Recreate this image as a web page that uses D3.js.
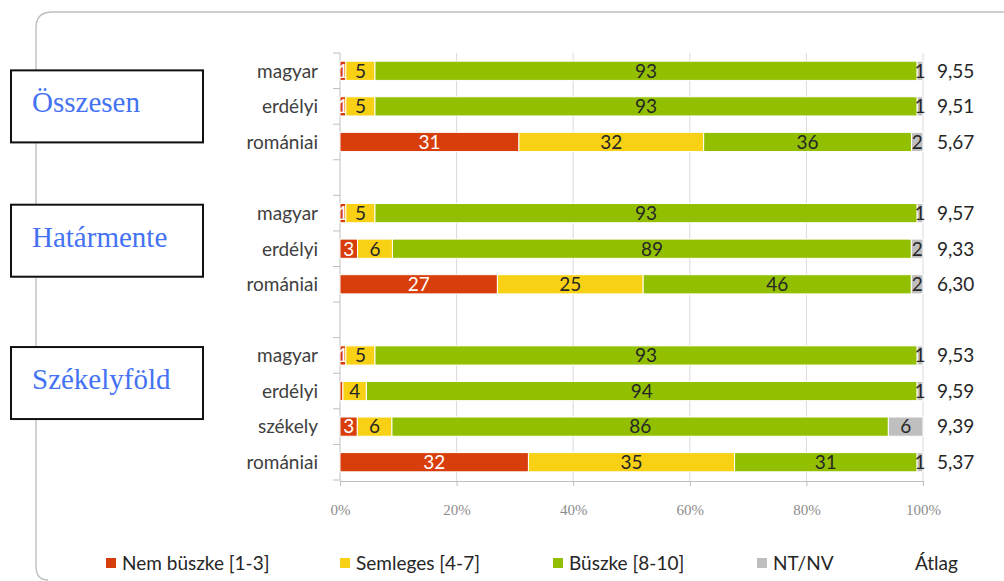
<!DOCTYPE html>
<html>
<head>
<meta charset="utf-8">
<script src="https://cdn.jsdelivr.net/npm/d3@7"></script>
<style>
  body { margin: 0; background: #fff; }
  svg { display: block; }
</style>
</head>
<body>
<svg id="chart" width="1004" height="581"></svg>
<script>
// ─── Data ─────────────────────────────────────────────────────────────────────
const rowNames   = ['magyar', 'erdélyi', 'romániai', '', 'magyar', 'erdélyi', 'romániai', '', 'magyar', 'erdélyi', 'székely', 'romániai'];
const nemBuszke  = [1, 1, 31, 0, 1, 3, 27, 0, 1, 0.5, 3, 32];
const semleges   = [5, 5, 32, 0, 5, 6, 25, 0, 5, 4, 6, 35];
const buszke     = [93, 93, 36, 0, 93, 89, 46, 0, 93, 94, 86, 31];
const ntnv       = [1, 1, 2, 0, 1, 2, 2, 0, 1, 1, 6, 1];
const atlag      = [9.55, 9.51, 5.67, null, 9.57, 9.33, 6.30, null, 9.53, 9.59, 9.39, 5.37];

const groupNames = ['Összesen', 'Határmente', 'Székelyföld'];
const groupRows  = [1, 5, 9];   // row the label box sits next to

const seriesNames  = ['Nem büszke [1-3]', 'Semleges [4-7]', 'Büszke [8-10]', 'NT/NV', 'Átlag'];
const seriesColors = ['#D83E0C', '#F8D115', '#92C000', '#BFBFBF', '#FFFFFF'];
const tickValues   = [0, 0.2, 0.4, 0.6, 0.8, 1];

// ─── Setup ────────────────────────────────────────────────────────────────────
const svg = d3.select('#chart');
const sans = 'Lato, "Open Sans", sans-serif';
const huLocale = d3.formatLocale({ decimal: ',', thousands: ' ', grouping: [3], currency: ['', ' Ft'] });
const fmtAvg = huLocale.format('.2f');

const x = d3.scaleLinear().domain([0, 1]).range([340, 923]);
const y = d3.scaleBand().domain(d3.range(rowNames.length)).range([53, 480]).paddingInner(0.46).paddingOuter(0.23);

const rows = rowNames.map((name, i) => ({
  i, name,
  s0: nemBuszke[i], s1: semleges[i], s2: buszke[i], s3: ntnv[i]
}));
const keys = ['s0', 's1', 's2', 's3'];
const stacked = d3.stack().keys(keys).offset(d3.stackOffsetExpand)(rows.filter(r => r.name));

// ─── Outer frame ──────────────────────────────────────────────────────────────
svg.append('path')
  .attr('d', 'M1004,12 L52,12 Q36,12 36,28 L36,566 Q36,580 48,580')
  .attr('fill', 'none')
  .attr('stroke', '#BFBFBF')
  .attr('stroke-width', 1.4);

// ─── Grid + axes ──────────────────────────────────────────────────────────────
const grid = svg.append('g');
grid.selectAll('line')
  .data(tickValues.slice(1))
  .join('line')
  .attr('x1', d => x(d)).attr('x2', d => x(d))
  .attr('y1', 53).attr('y2', 481)
  .attr('stroke', '#D9D9D9')
  .attr('stroke-width', 1);

// category axis line + boundary ticks
svg.append('line')
  .attr('x1', x(0)).attr('x2', x(0)).attr('y1', 53).attr('y2', 481)
  .attr('stroke', '#BFBFBF');
svg.append('g').selectAll('line')
  .data(d3.range(rowNames.length + 1))
  .join('line')
  .attr('x1', x(0) - 7).attr('x2', x(0))
  .attr('y1', d => 53 + d * y.step()).attr('y2', d => 53 + d * y.step())
  .attr('stroke', '#BFBFBF');

// value axis
const xAxis = svg.append('g')
  .attr('transform', 'translate(0,481)')
  .call(d3.axisBottom(x).tickValues(tickValues).tickFormat(d3.format('.0%')).tickSize(5).tickPadding(18));
xAxis.select('.domain').attr('stroke', '#BFBFBF');
xAxis.selectAll('.tick line').attr('stroke', '#BFBFBF');
xAxis.selectAll('.tick text')
  .attr('fill', '#8C8C8C')
  .attr('font-size', 15)
  .attr('font-family', '"Liberation Serif", serif');

// ─── Bars ─────────────────────────────────────────────────────────────────────
const layers = svg.append('g').selectAll('g')
  .data(stacked)
  .join('g')
  .attr('fill', (d, k) => seriesColors[k]);

layers.selectAll('rect')
  .data(d => d)
  .join('rect')
  .attr('x', d => x(d[0]))
  .attr('width', d => Math.max(0, x(d[1]) - x(d[0])))
  .attr('y', d => y(d.data.i))
  .attr('height', y.bandwidth())
  .attr('stroke', '#fff')
  .attr('stroke-width', 1);

// segment labels
layers.each(function(layer, k) {
  d3.select(this).selectAll('text')
    .data(layer.filter(d => d.data[keys[k]] >= 1))
    .join('text')
    .attr('x', d => (x(d[0]) + x(d[1])) / 2)
    .attr('y', d => y(d.data.i) + y.bandwidth() / 2)
    .attr('dy', '0.36em')
    .attr('text-anchor', 'middle')
    .attr('font-family', sans)
    .attr('font-size', 19)
    .attr('fill', k === 0 ? '#fff' : '#262626')
    .text(d => d3.format('.0f')(d.data[keys[k]]));
});

// category labels
svg.append('g').selectAll('text')
  .data(rows.filter(r => r.name))
  .join('text')
  .attr('x', 318)
  .attr('y', d => y(d.i) + y.bandwidth() / 2)
  .attr('dy', '0.36em')
  .attr('text-anchor', 'end')
  .attr('font-family', sans)
  .attr('font-size', 19)
  .attr('fill', '#404040')
  .text(d => d.name);

// averages
svg.append('g').selectAll('text')
  .data(rows.filter(r => atlag[r.i] != null))
  .join('text')
  .attr('x', 937)
  .attr('y', d => y(d.i) + y.bandwidth() / 2)
  .attr('dy', '0.36em')
  .attr('font-family', sans)
  .attr('font-size', 19)
  .attr('fill', '#262626')
  .text(d => fmtAvg(atlag[d.i]));

// ─── Group boxes ──────────────────────────────────────────────────────────────
const boxes = svg.append('g').selectAll('g')
  .data(groupNames)
  .join('g')
  .attr('transform', (d, i) => `translate(11,${y(groupRows[i]) + y.bandwidth() / 2 - 36 - (i ? 8 : 0)})`);
boxes.append('rect')
  .attr('x', 1).attr('y', 1)
  .attr('width', 192).attr('height', 72)
  .attr('fill', '#CFCFCF');
boxes.append('rect')
  .attr('width', 192).attr('height', 72)
  .attr('fill', '#fff')
  .attr('stroke', '#111')
  .attr('stroke-width', 2);
boxes.append('text')
  .attr('x', 21).attr('y', 42)
  .attr('font-family', '"Liberation Serif", serif')
  .attr('font-size', 29)
  .attr('fill', '#4472F4')
  .text(d => d);

// ─── Legend ───────────────────────────────────────────────────────────────────
const legendX = [106, 340, 553, 757, 902];
const legend = svg.append('g').selectAll('g')
  .data(seriesNames)
  .join('g')
  .attr('transform', (d, i) => `translate(${legendX[i]},563)`);
legend.append('rect')
  .attr('x', 0).attr('y', -5)
  .attr('width', 10).attr('height', 10)
  .attr('fill', (d, i) => seriesColors[i]);
legend.append('text')
  .attr('x', (d, i) => i === 4 ? 13 : 16)
  .attr('dy', '0.36em')
  .attr('font-family', sans)
  .attr('font-size', 19)
  .attr('fill', '#262626')
  .text(d => d);
</script>
</body>
</html>
